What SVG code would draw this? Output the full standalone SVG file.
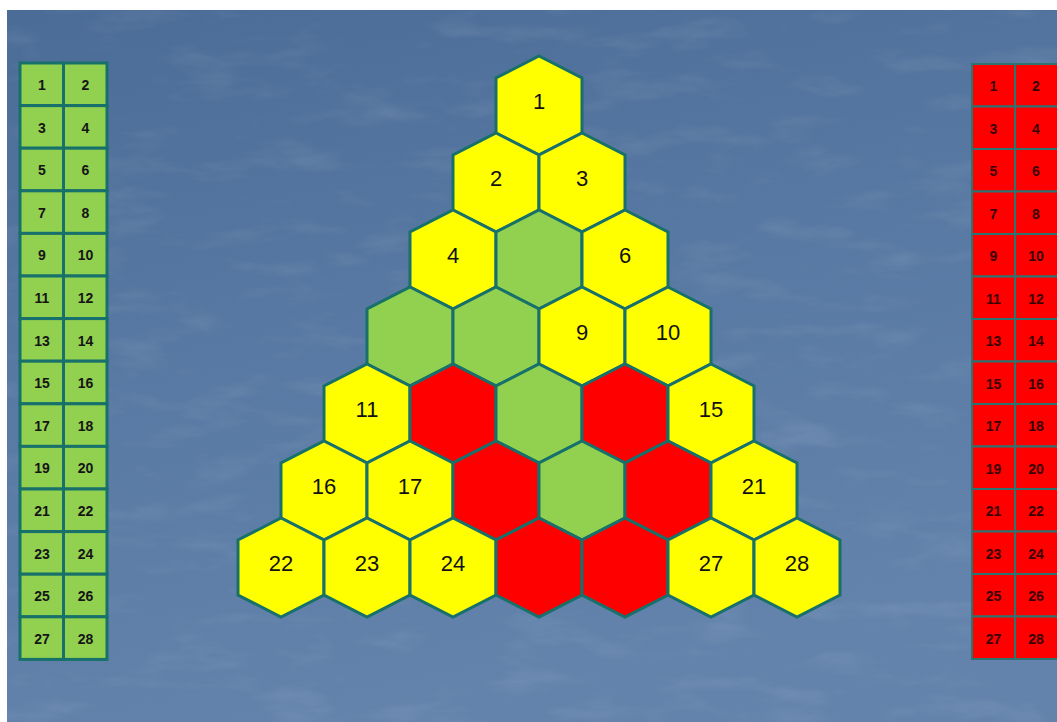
<svg xmlns="http://www.w3.org/2000/svg" xmlns:xlink="http://www.w3.org/1999/xlink" width="1057" height="722" viewBox="0 0 1057 722">
<defs>
<linearGradient id="bg" x1="0" y1="0" x2="0.3" y2="1">
<stop offset="0" stop-color="#4b6c97"/>
<stop offset="0.5" stop-color="#5879a3"/>
<stop offset="1" stop-color="#6383ac"/>
</linearGradient>
<filter id="tex" x="0" y="0" width="1" height="1">
<feTurbulence type="fractalNoise" baseFrequency="0.012 0.04" numOctaves="4" seed="7" result="n"/>
<feColorMatrix in="n" type="matrix" values="0 0 0 0 1  0 0 0 0 1  0 0 0 0 1  0 0 0 1.2 -0.62"/>
</filter>
<polygon id="hex" points="0,0 43,22 43,77 0,99 -43,77 -43,22"/>
<style>
.hy{fill:#ffff00}
.hg{fill:#92d050}
.hr{fill:#ff0000}
use{stroke:#17706a;stroke-width:3;stroke-linejoin:miter}
.hl{font-family:"Liberation Sans",Arial,sans-serif;font-size:22px;fill:#111;text-anchor:middle}
.gc{fill:#92d050;stroke:#17706a;stroke-width:3}
.rc{fill:#ff0000;stroke:#2b7470;stroke-width:2}
.tl{font-family:"Liberation Sans",Arial,sans-serif;font-size:14px;font-weight:bold;text-anchor:middle;fill:#151515}
.tr{font-family:"Liberation Sans",Arial,sans-serif;font-size:14px;font-weight:bold;text-anchor:middle;fill:#3a0000}
</style>
</defs>
<rect x="0" y="0" width="1057" height="722" fill="#ffffff"/>
<rect x="7" y="10" width="1050" height="712" fill="url(#bg)"/>
<rect x="7" y="10" width="1050" height="712" filter="url(#tex)" opacity="0.18"/>

<g id="hexagons">
<g id="h1"><use href="#hex" x="539" y="56" class="hy"/><text class="hl" x="539" y="109">1</text></g>
<g id="h2"><use href="#hex" x="496" y="133" class="hy"/><text class="hl" x="496" y="186">2</text></g>
<g id="h3"><use href="#hex" x="582" y="133" class="hy"/><text class="hl" x="582" y="186">3</text></g>
<g id="h4"><use href="#hex" x="453" y="210" class="hy"/><text class="hl" x="453" y="263">4</text></g>
<g id="h5"><use href="#hex" x="539" y="210" class="hg"/></g>
<g id="h6"><use href="#hex" x="625" y="210" class="hy"/><text class="hl" x="625" y="263">6</text></g>
<g id="h7"><use href="#hex" x="410" y="287" class="hg"/></g>
<g id="h8"><use href="#hex" x="496" y="287" class="hg"/></g>
<g id="h9"><use href="#hex" x="582" y="287" class="hy"/><text class="hl" x="582" y="340">9</text></g>
<g id="h10"><use href="#hex" x="668" y="287" class="hy"/><text class="hl" x="668" y="340">10</text></g>
<g id="h11"><use href="#hex" x="367" y="364" class="hy"/><text class="hl" x="367" y="417">11</text></g>
<g id="h12"><use href="#hex" x="453" y="364" class="hr"/></g>
<g id="h13"><use href="#hex" x="539" y="364" class="hg"/></g>
<g id="h14"><use href="#hex" x="625" y="364" class="hr"/></g>
<g id="h15"><use href="#hex" x="711" y="364" class="hy"/><text class="hl" x="711" y="417">15</text></g>
<g id="h16"><use href="#hex" x="324" y="441" class="hy"/><text class="hl" x="324" y="494">16</text></g>
<g id="h17"><use href="#hex" x="410" y="441" class="hy"/><text class="hl" x="410" y="494">17</text></g>
<g id="h18"><use href="#hex" x="496" y="441" class="hr"/></g>
<g id="h19"><use href="#hex" x="582" y="441" class="hg"/></g>
<g id="h20"><use href="#hex" x="668" y="441" class="hr"/></g>
<g id="h21"><use href="#hex" x="754" y="441" class="hy"/><text class="hl" x="754" y="494">21</text></g>
<g id="h22"><use href="#hex" x="281" y="518" class="hy"/><text class="hl" x="281" y="571">22</text></g>
<g id="h23"><use href="#hex" x="367" y="518" class="hy"/><text class="hl" x="367" y="571">23</text></g>
<g id="h24"><use href="#hex" x="453" y="518" class="hy"/><text class="hl" x="453" y="571">24</text></g>
<g id="h25"><use href="#hex" x="539" y="518" class="hr"/></g>
<g id="h26"><use href="#hex" x="625" y="518" class="hr"/></g>
<g id="h27"><use href="#hex" x="711" y="518" class="hy"/><text class="hl" x="711" y="571">27</text></g>
<g id="h28"><use href="#hex" x="797" y="518" class="hy"/><text class="hl" x="797" y="571">28</text></g>
</g>

<g id="green-table">
<rect class="gc" x="20" y="63" width="43.5" height="42.6"/><rect class="gc" x="63.5" y="63" width="43.5" height="42.6"/>
<rect class="gc" x="20" y="105.6" width="43.5" height="42.6"/><rect class="gc" x="63.5" y="105.6" width="43.5" height="42.6"/>
<rect class="gc" x="20" y="148.2" width="43.5" height="42.6"/><rect class="gc" x="63.5" y="148.2" width="43.5" height="42.6"/>
<rect class="gc" x="20" y="190.8" width="43.5" height="42.6"/><rect class="gc" x="63.5" y="190.8" width="43.5" height="42.6"/>
<rect class="gc" x="20" y="233.4" width="43.5" height="42.6"/><rect class="gc" x="63.5" y="233.4" width="43.5" height="42.6"/>
<rect class="gc" x="20" y="276" width="43.5" height="42.6"/><rect class="gc" x="63.5" y="276" width="43.5" height="42.6"/>
<rect class="gc" x="20" y="318.6" width="43.5" height="42.6"/><rect class="gc" x="63.5" y="318.6" width="43.5" height="42.6"/>
<rect class="gc" x="20" y="361.2" width="43.5" height="42.6"/><rect class="gc" x="63.5" y="361.2" width="43.5" height="42.6"/>
<rect class="gc" x="20" y="403.8" width="43.5" height="42.6"/><rect class="gc" x="63.5" y="403.8" width="43.5" height="42.6"/>
<rect class="gc" x="20" y="446.4" width="43.5" height="42.6"/><rect class="gc" x="63.5" y="446.4" width="43.5" height="42.6"/>
<rect class="gc" x="20" y="489" width="43.5" height="42.6"/><rect class="gc" x="63.5" y="489" width="43.5" height="42.6"/>
<rect class="gc" x="20" y="531.6" width="43.5" height="42.6"/><rect class="gc" x="63.5" y="531.6" width="43.5" height="42.6"/>
<rect class="gc" x="20" y="574.2" width="43.5" height="42.6"/><rect class="gc" x="63.5" y="574.2" width="43.5" height="42.6"/>
<rect class="gc" x="20" y="616.8" width="43.5" height="42.6"/><rect class="gc" x="63.5" y="616.8" width="43.5" height="42.6"/>
<text class="tl" x="42" y="90">1</text><text class="tl" x="85.5" y="90">2</text>
<text class="tl" x="42" y="132.6">3</text><text class="tl" x="85.5" y="132.6">4</text>
<text class="tl" x="42" y="175.2">5</text><text class="tl" x="85.5" y="175.2">6</text>
<text class="tl" x="42" y="217.8">7</text><text class="tl" x="85.5" y="217.8">8</text>
<text class="tl" x="42" y="260.4">9</text><text class="tl" x="85.5" y="260.4">10</text>
<text class="tl" x="42" y="303">11</text><text class="tl" x="85.5" y="303">12</text>
<text class="tl" x="42" y="345.6">13</text><text class="tl" x="85.5" y="345.6">14</text>
<text class="tl" x="42" y="388.2">15</text><text class="tl" x="85.5" y="388.2">16</text>
<text class="tl" x="42" y="430.8">17</text><text class="tl" x="85.5" y="430.8">18</text>
<text class="tl" x="42" y="473.4">19</text><text class="tl" x="85.5" y="473.4">20</text>
<text class="tl" x="42" y="516">21</text><text class="tl" x="85.5" y="516">22</text>
<text class="tl" x="42" y="558.6">23</text><text class="tl" x="85.5" y="558.6">24</text>
<text class="tl" x="42" y="601.2">25</text><text class="tl" x="85.5" y="601.2">26</text>
<text class="tl" x="42" y="643.8">27</text><text class="tl" x="85.5" y="643.8">28</text>
</g>

<g id="red-table">
<rect class="rc" x="972" y="64" width="43" height="42.5"/><rect class="rc" x="1015" y="64" width="45" height="42.5"/>
<rect class="rc" x="972" y="106.5" width="43" height="42.5"/><rect class="rc" x="1015" y="106.5" width="45" height="42.5"/>
<rect class="rc" x="972" y="149" width="43" height="42.5"/><rect class="rc" x="1015" y="149" width="45" height="42.5"/>
<rect class="rc" x="972" y="191.5" width="43" height="42.5"/><rect class="rc" x="1015" y="191.5" width="45" height="42.5"/>
<rect class="rc" x="972" y="234" width="43" height="42.5"/><rect class="rc" x="1015" y="234" width="45" height="42.5"/>
<rect class="rc" x="972" y="276.5" width="43" height="42.5"/><rect class="rc" x="1015" y="276.5" width="45" height="42.5"/>
<rect class="rc" x="972" y="319" width="43" height="42.5"/><rect class="rc" x="1015" y="319" width="45" height="42.5"/>
<rect class="rc" x="972" y="361.5" width="43" height="42.5"/><rect class="rc" x="1015" y="361.5" width="45" height="42.5"/>
<rect class="rc" x="972" y="404" width="43" height="42.5"/><rect class="rc" x="1015" y="404" width="45" height="42.5"/>
<rect class="rc" x="972" y="446.5" width="43" height="42.5"/><rect class="rc" x="1015" y="446.5" width="45" height="42.5"/>
<rect class="rc" x="972" y="489" width="43" height="42.5"/><rect class="rc" x="1015" y="489" width="45" height="42.5"/>
<rect class="rc" x="972" y="531.5" width="43" height="42.5"/><rect class="rc" x="1015" y="531.5" width="45" height="42.5"/>
<rect class="rc" x="972" y="574" width="43" height="42.5"/><rect class="rc" x="1015" y="574" width="45" height="42.5"/>
<rect class="rc" x="972" y="616.5" width="43" height="42.5"/><rect class="rc" x="1015" y="616.5" width="45" height="42.5"/>
<text class="tr" x="993.5" y="91">1</text><text class="tr" x="1036" y="91">2</text>
<text class="tr" x="993.5" y="133.5">3</text><text class="tr" x="1036" y="133.5">4</text>
<text class="tr" x="993.5" y="176">5</text><text class="tr" x="1036" y="176">6</text>
<text class="tr" x="993.5" y="218.5">7</text><text class="tr" x="1036" y="218.5">8</text>
<text class="tr" x="993.5" y="261">9</text><text class="tr" x="1036" y="261">10</text>
<text class="tr" x="993.5" y="303.5">11</text><text class="tr" x="1036" y="303.5">12</text>
<text class="tr" x="993.5" y="346">13</text><text class="tr" x="1036" y="346">14</text>
<text class="tr" x="993.5" y="388.5">15</text><text class="tr" x="1036" y="388.5">16</text>
<text class="tr" x="993.5" y="431">17</text><text class="tr" x="1036" y="431">18</text>
<text class="tr" x="993.5" y="473.5">19</text><text class="tr" x="1036" y="473.5">20</text>
<text class="tr" x="993.5" y="516">21</text><text class="tr" x="1036" y="516">22</text>
<text class="tr" x="993.5" y="558.5">23</text><text class="tr" x="1036" y="558.5">24</text>
<text class="tr" x="993.5" y="601">25</text><text class="tr" x="1036" y="601">26</text>
<text class="tr" x="993.5" y="643.5">27</text><text class="tr" x="1036" y="643.5">28</text>
</g>
<g id="connectors"/>
</svg>
